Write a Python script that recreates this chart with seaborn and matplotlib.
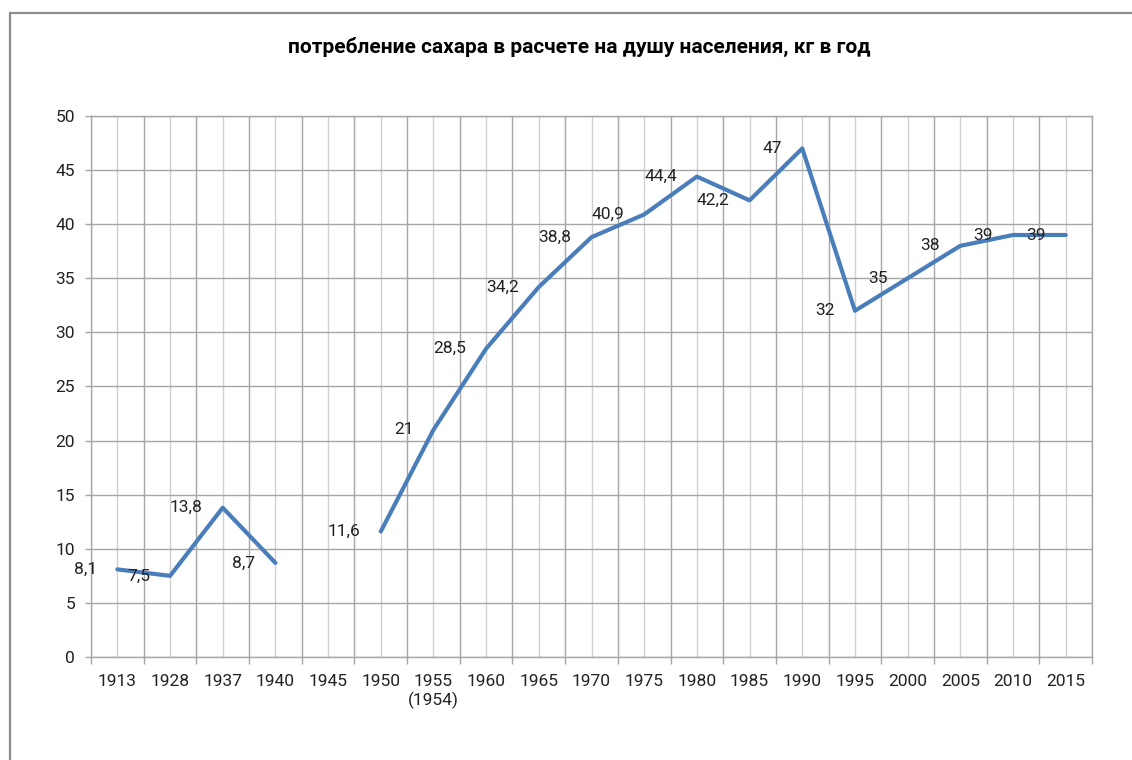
import matplotlib.pyplot as plt
import numpy as np
import pandas as pd
import seaborn as sns
from matplotlib.patches import Rectangle
from matplotlib.ticker import FixedLocator

years = ["1913", "1928", "1937", "1940", "1945", "1950", "1955\n(1954)", "1960",
         "1965", "1970", "1975", "1980", "1985", "1990", "1995", "2000",
         "2005", "2010", "2015"]
consumption = [8.1, 7.5, 13.8, 8.7, np.nan, 11.6, 21, 28.5, 34.2, 38.8, 40.9,
               44.4, 42.2, 47, 32, 35, 38, 39, 39]
y_ticks = [0, 5, 10, 15, 20, 25, 30, 35, 40, 45, 50]
title = "потребление сахара в расчете на душу населения, кг в год"

df = pd.DataFrame({"pos": np.arange(len(years)), "value": consumption})
# break the line where a value is missing (1945)
df["segment"] = df["value"].isna().cumsum()
df = df.dropna()

sns.set_theme(style="white")
plt.rcParams["font.family"] = ["Roboto", "DejaVu Sans"]

line_color = "#4a7ebb"
grid_major = "#a6a6a6"
grid_minor = "#d0d0d0"
text_color = "#222222"

fig = plt.figure(figsize=(11.32, 7.6), dpi=100)
ax = fig.add_axes([0.0804, 0.1355, 0.8843, 0.7119])

sns.lineplot(data=df, x="pos", y="value", units="segment", estimator=None,
             color=line_color, lw=3, ax=ax)

ax.set_xlim(-0.5, len(years) - 0.5)
ax.set_ylim(0, 50)
ax.set_xlabel("")
ax.set_ylabel("")

ax.xaxis.set_major_locator(FixedLocator(np.arange(len(years))))
ax.xaxis.set_minor_locator(FixedLocator(np.arange(len(years) + 1) - 0.5))
ax.set_xticks(np.arange(len(years)))
ax.set_xticklabels(years)
ax.set_yticks(y_ticks)

ax.tick_params(axis="x", which="major", length=0, pad=12, labelsize=12.5,
               labelcolor=text_color)
ax.tick_params(axis="x", which="minor", length=5, width=1, color=grid_major,
               bottom=True)
ax.tick_params(axis="y", length=4.5, width=1, color=grid_major, pad=7,
               labelsize=12.5, labelcolor=text_color, left=True)

ax.grid(True, axis="x", which="minor", color=grid_major, lw=1)
ax.grid(True, axis="x", which="major", color=grid_minor, lw=1)
ax.grid(True, axis="y", which="major", color=grid_major, lw=1)
ax.set_axisbelow(True)
for spine in ax.spines.values():
    spine.set_color(grid_major)
    spine.set_linewidth(1)

for x, v in zip(df["pos"], df["value"]):
    label = f"{v:g}".replace(".", ",")
    ax.annotate(label, (x, v), xytext=(-14.5, 0), textcoords="offset points",
                ha="right", va="center", fontsize=12.5, color=text_color)

fig.text(0.512, 0.938, title, ha="center", va="center", fontsize=15,
         fontweight="bold", color="black")

fig.patches.append(Rectangle((0.0088, -0.2), 1.5, 1.183, transform=fig.transFigure,
                             fill=False, edgecolor="#8c8c8c", lw=1.6))

fig.savefig("out.png", dpi=100)
